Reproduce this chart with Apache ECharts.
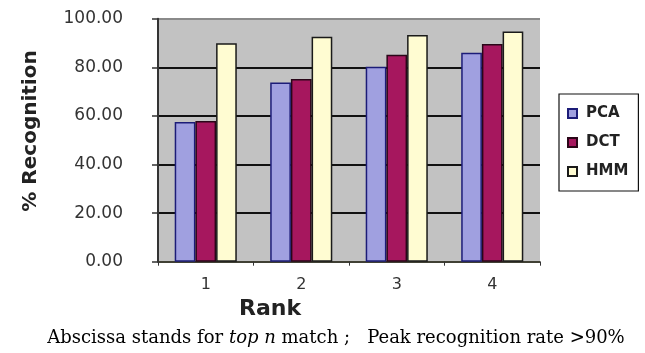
<!DOCTYPE html>
<html>
<head>
<meta charset="utf-8">
<script src="https://cdn.jsdelivr.net/npm/echarts@6/dist/echarts.min.js"></script>
<style>
  html, body { margin: 0; padding: 0; background: #ffffff; }
  #chart { width: 645px; height: 353px; }
</style>
</head>
<body>
<div id="chart"></div>
<script>
// Recognition rate (%) for top-n match, by method
const ranks = ['1', '2', '3', '4'];
const pca = [57.5, 73.7, 80.2, 86.0];
const dct = [57.9, 75.2, 85.2, 89.6];
const hmm = [89.9, 92.6, 93.3, 94.7];
const yTicks = [0, 20, 40, 60, 80, 100];

const methods = [
  { name: 'PCA', data: pca, fill: '#a0a0e0', edge: '#1c1c78' },
  { name: 'DCT', data: dct, fill: '#a6175e', edge: '#2a0618' },
  { name: 'HMM', data: hmm, fill: '#fffcd2', edge: '#1a1a1a' }
];

const chart = echarts.init(document.getElementById('chart'), null, { renderer: 'canvas' });

chart.setOption({
  animation: false,
  backgroundColor: '#ffffff',
  grid: {
    left: 158, right: 105, top: 18.7, bottom: 91.3,
    show: true, backgroundColor: '#c2c2c2', borderWidth: 0
  },
  legend: {
    orient: 'vertical',
    left: 559, top: 94,
    padding: [12, 10, 12, 8],
    itemGap: 14,
    itemWidth: 9, itemHeight: 9,
    icon: 'rect',
    borderColor: '#111', borderWidth: 1.2,
    backgroundColor: '#ffffff',
    textStyle: { fontFamily: 'DejaVu Sans', fontWeight: 'bold', fontSize: 15, color: '#222', padding: [0, 0, 0, 4] },
    data: methods.map(m => m.name)
  },
  xAxis: {
    type: 'category',
    data: ranks,
    axisLine: { lineStyle: { color: '#3a3a2a', width: 1.5 } },
    axisTick: { show: true, length: 4, lineStyle: { color: '#333' } },
    axisLabel: { fontFamily: 'DejaVu Sans', fontSize: 16, color: '#333', margin: 15 }
  },
  yAxis: {
    type: 'value',
    min: yTicks[0], max: yTicks[yTicks.length - 1], interval: 20,
    axisLine: { show: true, lineStyle: { color: '#333', width: 2 } },
    axisTick: { show: true, length: 6, inside: false, lineStyle: { color: '#333', width: 1.5 } },
    axisLabel: {
      fontFamily: 'DejaVu Sans', fontSize: 17, color: '#333', margin: 35,
      formatter: v => v.toFixed(2)
    },
    splitLine: {
      show: true,
      lineStyle: { color: ['#555', '#111', '#111', '#111', '#111', '#8a8a8a'], width: 2 }
    }
  },
  series: methods.map(m => ({
    name: m.name,
    type: 'bar',
    data: m.data,
    barGap: '0%',
    barCategoryGap: '35%',
    itemStyle: { color: m.fill, borderColor: m.edge, borderWidth: 1.5 }
  })),
  graphic: [
    {
      type: 'text', x: 31, y: 131, rotation: Math.PI / 2,
      style: {
        text: '% Recognition', textAlign: 'center', textVerticalAlign: 'middle',
        font: 'bold 20px "DejaVu Sans"', fill: '#222'
      }
    },
    {
      type: 'text', x: 270, y: 309,
      style: {
        text: 'Rank', textAlign: 'center', textVerticalAlign: 'middle',
        font: 'bold 22px "DejaVu Sans"', fill: '#222'
      }
    },
    {
      type: 'text', x: 336, y: 338,
      style: {
        text: '{a|Abscissa stands for }{i|top n}{a| match ;   Peak recognition rate >90%}',
        textAlign: 'center', textVerticalAlign: 'middle',
        rich: {
          a: { fontFamily: 'DejaVu Serif', fontSize: 18, color: '#1a1a1a' },
          i: { fontFamily: 'DejaVu Serif', fontStyle: 'italic', fontSize: 18, color: '#1a1a1a' }
        }
      }
    }
  ]
});
</script>
</body>
</html>
